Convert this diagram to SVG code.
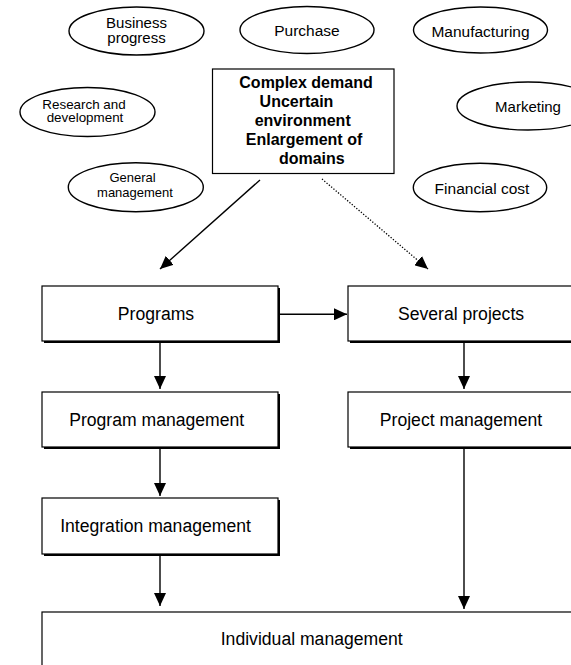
<svg xmlns="http://www.w3.org/2000/svg" width="571" height="665" viewBox="0 0 571 665">
  <defs>
    <marker id="arrow" markerUnits="userSpaceOnUse" markerWidth="14" markerHeight="12" refX="13" refY="6" orient="auto">
      <path d="M0,0 L13,6 L0,12 z" fill="#000"/>
    </marker>
    <style>
      .ell { fill: #fff; stroke: #000; stroke-width: 1.4; }
      .box { fill: #fff; stroke: #000; stroke-width: 1.2; }
      .shadow { fill: #000; }
      .lbl { font-family: "Liberation Sans", Arial, sans-serif; fill: #000; text-anchor: middle; }
      .big { font-size: 17.6px; }
      .bold { font-size: 16px; font-weight: bold; }
      .conn { stroke: #000; stroke-width: 1.4; fill: none; }
      .dot { stroke-dasharray: 1.3 1.7; stroke-width: 1.3; }
    </style>
  </defs>
  <rect width="571" height="665" fill="#fff"/>

  <!-- domain ellipses -->
  <g id="business-progress">
    <ellipse class="ell" cx="136.5" cy="31" rx="67.5" ry="24"/>
    <text class="lbl" x="136.5" y="27.5" font-size="15">Business</text>
    <text class="lbl" x="136.5" y="43" font-size="15">progress</text>
  </g>
  <g id="purchase">
    <ellipse class="ell" cx="307" cy="30" rx="67" ry="23.5"/>
    <text class="lbl" x="307" y="36" font-size="15.5">Purchase</text>
  </g>
  <g id="manufacturing">
    <ellipse class="ell" cx="480.5" cy="30" rx="67" ry="23"/>
    <text class="lbl" x="480.5" y="37" font-size="15.5">Manufacturing</text>
  </g>
  <g id="research">
    <ellipse class="ell" cx="87.5" cy="112" rx="67.5" ry="24.5"/>
    <text class="lbl" x="84" y="108.5" font-size="13.4">Research and</text>
    <text class="lbl" x="85" y="122" font-size="13.4">development</text>
  </g>
  <g id="marketing">
    <ellipse class="ell" cx="528" cy="106" rx="71" ry="24"/>
    <text class="lbl" x="528" y="112" font-size="15">Marketing</text>
  </g>
  <g id="general-management">
    <ellipse class="ell" cx="135.8" cy="187.2" rx="67.5" ry="24.5"/>
    <text class="lbl" x="132.5" y="182" font-size="13">General</text>
    <text class="lbl" x="135" y="196.5" font-size="13">management</text>
  </g>
  <g id="financial-cost">
    <ellipse class="ell" cx="480" cy="187.5" rx="66.7" ry="24.2"/>
    <text class="lbl" x="482" y="194.3" font-size="15.5">Financial cost</text>
  </g>

  <!-- central context box -->
  <g id="context">
    <rect class="box" x="212.5" y="69" width="181.5" height="104.5" stroke-width="1.5"/>
    <text class="lbl bold" x="306" y="87.7">Complex demand</text>
    <text class="lbl bold" x="296.5" y="106.7">Uncertain</text>
    <text class="lbl bold" x="302.7" y="125.5">environment</text>
    <text class="lbl bold" x="304" y="145">Enlargement of</text>
    <text class="lbl bold" x="311.8" y="164.3">domains</text>
  </g>

  <!-- management boxes (drop shadow + frame) -->
  <g id="programs">
    <rect class="shadow" x="44" y="288" width="236" height="55"/>
    <rect class="box" x="42" y="286" width="236" height="55"/>
    <text class="lbl big" x="156" y="320">Programs</text>
  </g>
  <g id="several-projects">
    <rect class="shadow" x="350" y="288" width="226" height="55"/>
    <rect class="box" x="348" y="286" width="226" height="55"/>
    <text class="lbl big" x="461" y="320">Several projects</text>
  </g>
  <g id="program-management">
    <rect class="shadow" x="44" y="394" width="236" height="55"/>
    <rect class="box" x="42" y="392" width="236" height="55"/>
    <text class="lbl big" x="156.7" y="426">Program management</text>
  </g>
  <g id="project-management">
    <rect class="shadow" x="350" y="394" width="226" height="55"/>
    <rect class="box" x="348" y="392" width="226" height="55"/>
    <text class="lbl big" x="461" y="426">Project management</text>
  </g>
  <g id="integration-management">
    <rect class="shadow" x="44" y="500" width="236" height="56"/>
    <rect class="box" x="42" y="498" width="236" height="56"/>
    <text class="lbl big" x="155.5" y="532">Integration management</text>
  </g>
  <g id="individual-management">
    <rect class="box" x="42" y="612" width="540" height="70"/>
    <text class="lbl big" x="311.7" y="645">Individual management</text>
  </g>

  <!-- connectors -->
  <g id="connectors">
    <line class="conn" x1="260" y1="180" x2="160" y2="269" marker-end="url(#arrow)"/>
    <line class="conn dot" x1="322" y1="179" x2="428" y2="269" marker-end="url(#arrow)"/>
    <line class="conn" x1="280" y1="314.3" x2="347" y2="314.3" marker-end="url(#arrow)"/>
    <line class="conn" x1="160" y1="343" x2="160" y2="389" marker-end="url(#arrow)"/>
    <line class="conn" x1="464" y1="343" x2="464" y2="389" marker-end="url(#arrow)"/>
    <line class="conn" x1="160" y1="449" x2="160" y2="496" marker-end="url(#arrow)"/>
    <line class="conn" x1="160" y1="556" x2="160" y2="606" marker-end="url(#arrow)"/>
    <line class="conn" x1="464" y1="449" x2="464" y2="609" marker-end="url(#arrow)"/>
  </g>
</svg>
